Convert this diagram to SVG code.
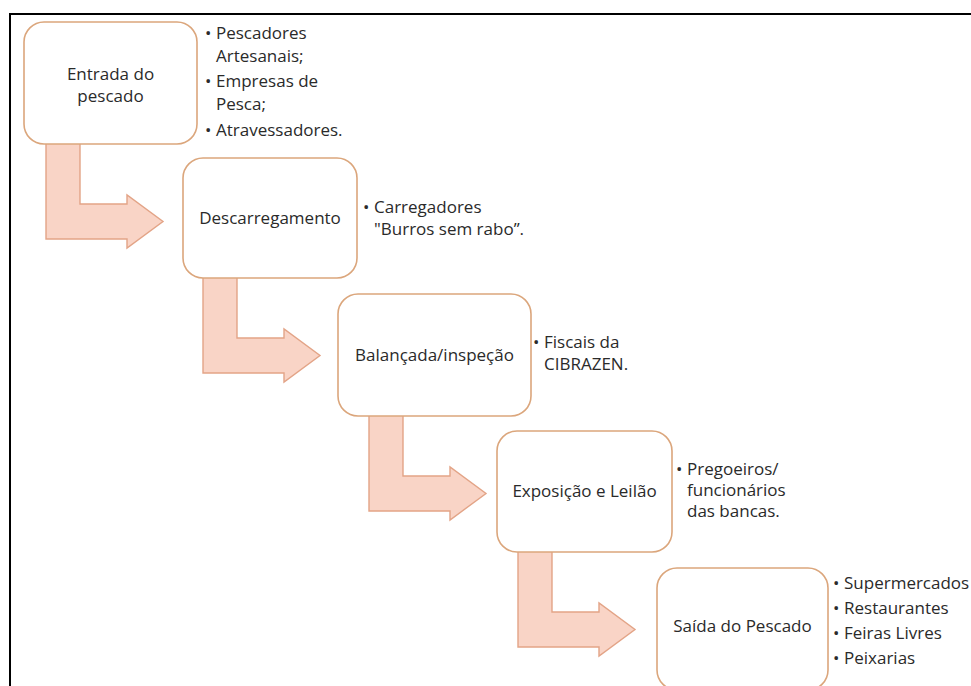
<svg xmlns="http://www.w3.org/2000/svg" xmlns:xlink="http://www.w3.org/1999/xlink" width="971" height="686" viewBox="0 0 971 686">
  <style>
    .box { fill: #ffffff; stroke: #dba67c; stroke-width: 1.6; }
    .arrow { fill: #f9d4c6; stroke: #e3a487; stroke-width: 1.4; stroke-linejoin: miter; }
    text { font-family: "Open Sans", "Noto Sans", "DejaVu Sans", sans-serif; font-size: 17px; fill: #2a2a2a; }
    .lbl { text-anchor: middle; }
  </style>
  <defs>
    <path id="bend" d="M0,-2 L34,-2 L34,60 L81,60 L81,51 L117,77.5 L81,104 L81,95 L0,95 Z"/>
  </defs>
  <rect x="0" y="0" width="971" height="686" fill="#ffffff"/>
  <rect x="10" y="14" width="975" height="700" fill="none" stroke="#000000" stroke-width="2"/>

  <g id="connectors">
    <use xlink:href="#bend" class="arrow" transform="translate(46,144)"/>
    <use xlink:href="#bend" class="arrow" transform="translate(203,278)"/>
    <use xlink:href="#bend" class="arrow" transform="translate(369,416)"/>
    <use xlink:href="#bend" class="arrow" transform="translate(518,552)"/>
  </g>

  <g id="entrada">
    <rect class="box" x="24" y="22" width="173" height="122" rx="20" ry="20"/>
    <text class="lbl" x="110.5" y="80">Entrada do</text>
    <text class="lbl" x="110.5" y="102">pescado</text>
  </g>
  <g id="descarregamento">
    <rect class="box" x="183" y="158" width="174" height="120" rx="20" ry="20"/>
    <text class="lbl" x="270" y="224">Descarregamento</text>
  </g>
  <g id="balancada">
    <rect class="box" x="338" y="294" width="193" height="122" rx="20" ry="20"/>
    <text class="lbl" x="434.5" y="361">Balançada/inspeção</text>
  </g>
  <g id="exposicao">
    <rect class="box" x="497" y="431" width="175" height="121" rx="20" ry="20"/>
    <text class="lbl" x="584.5" y="497">Exposição e Leilão</text>
  </g>
  <g id="saida">
    <rect class="box" x="657" y="568" width="171" height="122" rx="20" ry="20"/>
    <text class="lbl" x="742.5" y="632">Saída do Pescado</text>
  </g>

  <g id="notes-entrada">
    <text x="205" y="39">•</text><text x="216" y="39">Pescadores</text>
    <text x="216" y="62">Artesanais;</text>
    <text x="205" y="87">•</text><text x="216" y="87">Empresas de</text>
    <text x="216" y="110">Pesca;</text>
    <text x="205" y="136">•</text><text x="216" y="136">Atravessadores.</text>
  </g>
  <g id="notes-descarregamento">
    <text x="363" y="213">•</text><text x="374" y="213">Carregadores</text>
    <text x="374" y="235">"Burros sem rabo”.</text>
  </g>
  <g id="notes-balancada">
    <text x="533" y="348">•</text><text x="544" y="348">Fiscais da</text>
    <text x="544" y="370">CIBRAZEN.</text>
  </g>
  <g id="notes-exposicao">
    <text x="676" y="475">•</text><text x="687" y="475">Pregoeiros/</text>
    <text x="687" y="496">funcionários</text>
    <text x="687" y="517">das bancas.</text>
  </g>
  <g id="notes-saida">
    <text x="833" y="589">•</text><text x="844" y="589">Supermercados</text>
    <text x="833" y="614">•</text><text x="844" y="614">Restaurantes</text>
    <text x="833" y="639">•</text><text x="844" y="639">Feiras Livres</text>
    <text x="833" y="664">•</text><text x="844" y="664">Peixarias</text>
  </g>
</svg>
